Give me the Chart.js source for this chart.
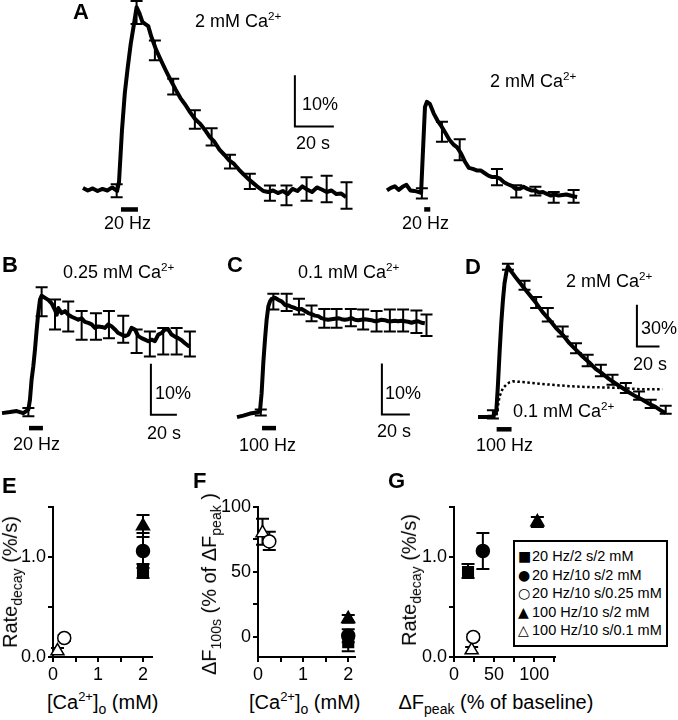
<!DOCTYPE html>
<html>
<head>
<meta charset="utf-8">
<script src="https://cdn.jsdelivr.net/npm/chart.js@4.4.1/dist/chart.umd.min.js"></script>
<style>
  html, body { margin: 0; padding: 0; background: #fff; }
  #fig { position: relative; width: 678px; height: 720px; overflow: hidden;
         font-family: "Liberation Sans", Arial, Helvetica, sans-serif; color: #000; }
  #fig canvas { position: absolute; }
  .lbl { position: absolute; white-space: nowrap; line-height: 1; font-size: 18px; }
  .lbl sup { font-size: 0.65em; vertical-align: 0.6em; line-height: 0; }
  .lbl sub { font-size: 0.7em; vertical-align: -0.35em; line-height: 0; }
  .panel { font-weight: bold; font-size: 22px; }
  .title { font-size: 20px; }
  #legend { position: absolute; left: 513px; top: 540px; width: 155px; height: 107px;
            box-sizing: border-box; border: 2px solid #000; background: #fff;
            padding: 5px 0 0 3px; font-size: 14.5px; line-height: 18.6px; white-space: nowrap; }
  #legend .mk { display: inline-block; width: 14px; font-family: "DejaVu Sans", sans-serif; font-size: 14px; }
</style>
</head>
<body>
<div id="fig"></div>
<script>
/* =========================
   TRACES (time in s, dF in % of baseline)
========================= */

// A, 20 Hz / 10 s, 2 mM
const aLongTime = [0, 2.5, 5, 7.5, 10, 12.5, 15, 17.5, 18.5, 20,
  21.5, 23, 24.5, 26, 27.5, 29, 30.5, 32, 33.5, 35,
  37.5, 40, 42.5, 45, 47.5, 50, 52.5, 55, 57.5, 60,
  62.5, 65, 67.5, 70, 72.5, 75, 77.5, 80, 82.5, 85,
  87.5, 90, 92.5, 95, 97.5, 100, 102.5, 105, 107.5, 110,
  112.5, 115, 117.5, 120, 122.5, 125, 127.5, 130, 132.5, 135];
const aLongDF = [0.3, -0.2, 0.2, -0.3, 0.1, -0.2, 0.4, -0.3, 1.5, 11.5,
  19, 24, 28.5, 32, 35.7, 34.5, 32.8, 32.4, 32, 30,
  27.4, 25.3, 23.3, 21.4, 19.6, 17.9, 16.6, 15.1, 13.8, 12.9,
  11.7, 10.3, 9.3, 7.8, 6.8, 5.7, 5.0, 3.9, 2.9, 2.0,
  1.2, 0.4, -0.3, -0.5, -0.2, -0.7, -0.3, -0.9, 0.1, -0.3,
  0.6, 0, -0.5, 0.4, 0, -0.5, -0.2, -0.9, -0.8, -1.5];
const aLongErrTime = [17.3, 27.5, 36.9, 46.3, 57.4, 66, 75.4, 85.6, 95.9, 104.4, 114.7, 125, 135.2];
const aLongErrHi = [1.0, 36.9, 29.2, 21.7, 15.5, 12, 6.8, 3.1, 0.8, 0.8, 2.4, 2.7, 1.4];
const aLongErrLo = [-1.5, 32.4, 25.3, 18.6, 11.9, 8.6, 4.1, 0.1, -2.2, -3.1, -2.2, -2.5, -3.8];

// A, 20 Hz / 2 s, 2 mM
const aShortTime = [0, 2, 4, 6, 8, 10, 12, 14, 16, 17.5, 18.5, 19.5, 20.5,
  22, 24, 26, 28, 30, 32, 34, 36, 38, 40, 42, 44, 46, 48, 50, 52, 54, 56, 58,
  60, 62, 64, 66, 68, 70, 72, 74, 76, 78, 80, 82, 84, 86, 88, 90, 92, 94, 96, 97.5];
const aShortDF = [0, 0.5, 0.8, 0.1, 0.7, 1.1, 0, -0.1, -0.3, -0.5, 8, 16.3, 17.3,
  16.9, 15, 13.6, 12.5, 11.2, 9.9, 9, 8.4, 7.2, 5.6, 4.4, 4.2, 3.9, 3.9, 3.4, 2.9, 2.6, 2.6, 2.3,
  1.6, 1.2, 0.9, 0.3, 0.3, 0.7, 0.3, 0, 0, -0.4, -0.3, -0.7, -1.0, -0.8, -1.0, -0.9, -0.8, -1.0, -1.2, -1.3];
const aShortErrTime = [17.9, 28.2, 37.3, 56.4, 66.3, 76.1, 85.5, 95.7];
const aShortErrHi = [0.4, 13.4, 10.0, 4.2, 1.0, 0.7, -0.3, 0.1];
const aShortErrLo = [-1.6, 9.5, 5.9, 1.0, -1.4, -1.0, -2.4, -2.4];

// B, 20 Hz / 10 s, 0.25 mM
const bTime = [0, 6.2, 11.3, 16.4, 20.3, 21.5, 22.8, 24.1, 25.4, 26.7,
  27.9, 29.2, 30.5, 33.1, 35.6, 38.2, 40.8, 42.1, 43.3, 45.9,
  48.5, 51, 53.6, 56.2, 58.7, 61.3, 63.8, 66.4, 69, 71.5,
  74.1, 76.7, 79.2, 81.8, 84.4, 86.9, 89.5, 92.1, 94.6, 97.2,
  99.7, 102.3, 104.9, 107.4, 110, 112.6, 115.1, 117.7, 120.3, 122.8,
  125.4, 127.9, 130.5, 133.1, 135.6, 138.2, 140.8, 143.3, 144.6];
const bDF = [-0.1, 0.1, 0.3, -0.1, 0.6, 2.5, 6.5, 9.1, 12.4, 16.3,
  19.5, 22.1, 22.9, 22.5, 22.1, 21.4, 20.1, 19.2, 20.5, 19.5,
  19.9, 19.2, 18.8, 18.5, 18.2, 18.5, 17.8, 17.6, 17.3, 16.6,
  16.9, 16.8, 16.6, 17.3, 16.9, 16.3, 15.6, 15.3, 15.0, 15.3,
  16.6, 16.3, 15.0, 14.6, 14.3, 14.0, 14.3, 14.0, 15.3, 15.6,
  16.3, 16.3, 15.3, 14.9, 14.6, 14.2, 13.6, 13.1, 13.0];
const bErrTime = [20.3, 30.5, 40.8, 51, 61.3, 72.3, 82.3, 93.3, 103.6, 113.8, 124.1, 134.4, 144.6];
const bErrHi = [0.9, 24.6, 22.2, 21.8, 19.9, 19.5, 19.9, 19.0, 16.3, 15.9, 16.6, 16.6, 15.9];
const bErrLo = [-0.7, 18.9, 16.3, 15.9, 14.3, 14.3, 14.6, 13.7, 11.7, 11.0, 11.4, 11.4, 11.0];

// C, 100 Hz / 10 s, 0.1 mM
const cTime = [0, 4.5, 9.3, 14, 16.4, 17.6, 18.8, 20, 21.2, 22.4,
  23.6, 24.8, 27.1, 29.5, 31.9, 34.3, 36.7, 39, 41.4, 43.8,
  46.2, 48.6, 51, 53.3, 55.7, 58.1, 60.5, 62.9, 65.2, 67.6,
  70, 72.4, 74.8, 77.1, 79.5, 81.9, 84.3, 86.7, 89, 91.4,
  93.8, 96.2, 98.6, 101, 103.3, 105.7, 108.1, 110.5, 112.9, 115.2,
  117.6, 120, 122.4, 124.8, 127.1, 129.5, 131.9, 134.3];
const cDF = [-0.1, 0.2, 0.6, 0.8, 1.0, 4.6, 10.5, 15.1, 19.0, 21.6,
  22.6, 23.1, 23.3, 22.9, 22.6, 21.9, 21.8, 21.5, 21.3, 21.0,
  21.1, 20.7, 20.3, 20.1, 19.8, 19.7, 19.3, 19.1, 19.0, 19.1,
  19.2, 19.3, 19.1, 19.0, 19.1, 19.3, 19.0, 18.9, 19.0, 19.1,
  19.0, 18.9, 18.7, 18.8, 19.0, 18.9, 18.7, 18.7, 18.8, 18.7,
  18.8, 18.7, 18.6, 18.4, 18.6, 18.7, 18.4, 18.3];
const cErrTime = [17, 26, 35.5, 44.3, 53.3, 62.4, 71.2, 81.4, 90.2, 99.8, 109.3, 118.8, 128.3, 135.5];
const cErrHi = [1.4, 24.1, 24.1, 23.1, 21.8, 21.1, 21.1, 21.1, 21.0, 20.7, 21.0, 21.0, 20.8, 20.0];
const cErrLo = [0.2, 21.0, 20.7, 20.0, 18.7, 17.4, 17.4, 17.7, 17.1, 16.7, 16.7, 16.7, 16.4, 15.8];

// D, 100 Hz / 10 s, 2 mM (solid) and 0.1 mM (dotted)
const dTime = [0, 7.4, 13.2, 16.2, 17.6, 19.1, 20.6, 22.1, 23.5, 25,
  26.5, 29.4, 33.8, 39.7, 45.6, 51.5, 57.4, 63.2, 69.1, 75,
  80.9, 86.8, 92.6, 98.5, 104.4, 110.3, 116.2, 122.1, 127.9, 133.8,
  139.7, 145.6, 151.5, 157.4, 163.2, 166.2];
const dDF = [0, 0, 0.5, 4.1, 22.3, 46.3, 67.6, 84.4, 96.4, 103.6,
  108.4, 104.8, 100, 94, 88, 82, 75.3, 70, 64, 59.2,
  53.2, 48.4, 43.6, 39.3, 34.5, 31.2, 27.3, 24, 20.9, 17.7,
  14.9, 12.5, 9.6, 7.2, 4.1, 2.9];
const dErrTime = [13.2, 26.5, 41.2, 51.5, 61.8, 75, 86.8, 97.1, 108.8, 119.1, 130.9, 142.6, 152.9, 166.2];
const dErrHi = [5, 110.3, 98, 86.3, 78.4, 65.2, 53.2, 44.8, 37.6, 30.5, 24.5, 18.5, 12.5, 8.2];
const dErrLo = [-1, 106, 91.6, 78.4, 68.8, 58, 46, 36.5, 29.3, 23.3, 17.3, 12.5, 6.5, 2.4];
const dLowTime = [0, 16.2, 17.6, 19.1, 22.1, 25, 27.9, 30.9, 39.7, 54.4, 69.1, 83.8, 98.5, 113.2, 127.9, 142.6, 157.4, 163.2];
const dLowDF = [0, 0, 7.7, 14.9, 20.9, 23.3, 25, 25.7, 25.2, 24, 23, 22.1, 21.6, 21.3, 20.9, 20.1, 20.1, 20.1];

// stimulus trains [start, end] (s)
const stimALong = [19.5, 28.2];
const stimAShort = [19.1, 22.2];
const stimB = [20.8, 31.5];
const stimC = [17.9, 27.9];
const stimD = [16.5, 29.7];

// scale bars: [seconds, percent]
const scaleBarA = [20, 10];
const scaleBarB = [20, 10];
const scaleBarC = [20, 10];
const scaleBarD = [20, 30];

/* =========================
   SUMMARY (E, F, G)
========================= */

const seriesLabels = ["20 Hz/2 s/2 mM", "20 Hz/10 s/2 mM", "20 Hz/10 s/0.25 mM", "100 Hz/10 s/2 mM", "100 Hz/10 s/0.1 mM"];
const seriesGlyphs = ["\u25A0", "\u25CF", "\u25CB", "\u25B2", "\u25B3"];

const caConc = [2, 2, 0.25, 2, 0.1];
const rateE = [0.86, 1.06, 0.19, 1.31, 0.06];
const rateEHi = [0.93, 1.24, 0.22, 1.42, 0.09];
const rateELo = [0.79, 0.89, 0.16, 1.20, 0.03];

const dF100 = [-4, 1, 73.5, 14, 80];
const dF100Hi = [2, 6, 81, 17, 91];
const dF100Lo = [-11, -4, 67, 11, 71];

const dFpeak = [17.5, 36, 24, 104, 22];
const rateG = [0.85, 1.06, 0.20, 1.35, 0.07];
const rateGHi = [0.93, 1.24, 0.23, 1.40, 0.10];
const rateGLo = [0.79, 0.88, 0.17, 1.30, 0.04];

const rateTicks = [0, 0.5, 1, 1.5];
const rateTickLabels = ["0.0", "", "1.0", ""];
const caTicks = [0, 0.5, 1, 1.5, 2];
const caTickLabels = ["0", "", "1", "", "2"];
const dF100Ticks = [0, 25, 50, 75, 100];
const dF100TickLabels = ["0", "", "50", "", "100"];
const peakTicks = [0, 25, 50, 75, 100, 125];
const peakTickLabels = ["0", "", "50", "", "100", ""];

/* =========================
   HELPERS
========================= */

const FONT = '"Liberation Sans", Arial, Helvetica, sans-serif';
const fig = document.getElementById("fig");
const xy = (xs, ys) => xs.map((x, i) => ({ x: x, y: ys[i] }));

function errorBars(phase, cap, lw) {
  const draw = chart => {
    const ctx = chart.ctx, xs = chart.scales.x, ys = chart.scales.y;
    ctx.save();
    ctx.strokeStyle = "#000";
    ctx.lineWidth = lw;
    chart.data.datasets.forEach(ds => {
      if (!ds.errHi) return;
      ds.errHi.forEach((hi, i) => {
        const xv = ds.errX ? ds.errX[i] : ds.data[i].x;
        const x = xs.getPixelForValue(xv);
        const y1 = ys.getPixelForValue(hi), y2 = ys.getPixelForValue(ds.errLo[i]);
        ctx.beginPath();
        ctx.moveTo(x, y1); ctx.lineTo(x, y2);
        ctx.moveTo(x - cap, y1); ctx.lineTo(x + cap, y1);
        ctx.moveTo(x - cap, y2); ctx.lineTo(x + cap, y2);
        ctx.stroke();
      });
    });
    ctx.restore();
  };
  return phase === "before" ? { id: "errBefore", beforeDatasetsDraw: draw } : { id: "errAfter", afterDatasetsDraw: draw };
}

function traceExtras(opt) {
  return {
    id: "traceExtras",
    afterDatasetsDraw(chart) {
      const ctx = chart.ctx, xs = chart.scales.x, ys = chart.scales.y;
      ctx.save();
      ctx.fillStyle = "#000";
      ctx.strokeStyle = "#000";
      if (opt.stim) {
        const x1 = xs.getPixelForValue(opt.stim[0]), x2 = xs.getPixelForValue(opt.stim[1]);
        const y = ys.getPixelForValue(0) + opt.stimOffset;
        ctx.fillRect(x1, y - 2.25, x2 - x1, 4.5);
      }
      if (opt.bar) {
        const x0 = xs.getPixelForValue(opt.barAt[0]), y0 = ys.getPixelForValue(opt.barAt[1]);
        const x1 = xs.getPixelForValue(opt.barAt[0] + opt.bar[0]);
        const y1 = ys.getPixelForValue(opt.barAt[1] + opt.bar[1]);
        ctx.lineWidth = 2;
        ctx.beginPath();
        ctx.moveTo(x0, y1); ctx.lineTo(x0, y0); ctx.lineTo(x1, y0);
        ctx.stroke();
      }
      ctx.restore();
    }
  };
}

function traceChart(box, datasets, extras) {
  const pad = 14;
  const left = box.x0 + box.tMin * box.sx, right = box.x0 + box.tMax * box.sx;
  const top = box.y0 - box.vMax * box.sy, bottom = box.y0 - box.vMin * box.sy;
  const cv = document.createElement("canvas");
  const w = Math.round(right - left) + 2 * pad, h = Math.round(bottom - top) + 2 * pad;
  cv.width = w; cv.height = h;
  cv.style.width = w + "px"; cv.style.height = h + "px";
  cv.style.left = Math.round(left - pad) + "px";
  cv.style.top = Math.round(top - pad) + "px";
  fig.appendChild(cv);
  new Chart(cv, {
    type: "line",
    data: { datasets: datasets },
    options: {
      responsive: false,
      animation: false,
      events: [],
      layout: { padding: pad },
      plugins: { legend: { display: false }, tooltip: { enabled: false } },
      scales: {
        x: { type: "linear", display: false, min: box.tMin, max: box.tMax },
        y: { type: "linear", display: false, min: box.vMin, max: box.vMax }
      }
    },
    plugins: [errorBars("after", 6, 2), traceExtras(extras)]
  });
}

function traceSet(t, v, errX, errHi, errLo) {
  return {
    data: xy(t, v), borderColor: "#000", borderWidth: 4, pointRadius: 0,
    tension: 0, fill: false, clip: false, borderJoinStyle: "round",
    errX: errX, errHi: errHi, errLo: errLo
  };
}

function axis(min, max, tickVals, tickLabels, size) {
  return {
    type: "linear", min: min, max: max,
    afterBuildTicks: s => { s.ticks = tickVals.map(v => ({ value: v })); },
    afterFit: s => { if (s.isHorizontal()) s.height = size; else s.width = size; },
    border: { display: true, color: "#000", width: 2 },
    grid: { display: true, drawOnChartArea: false, drawTicks: true, tickLength: 5, color: "#000", lineWidth: 2 },
    ticks: {
      autoSkip: false, maxRotation: 0, padding: 2, color: "#000",
      font: { family: FONT, size: 18 },
      callback: (v, i) => tickLabels[i]
    }
  };
}

const markerStyle = ["rect", "circle", "circle", "triangle", "triangle"];
const markerFill = ["#000", "#000", "#fff", "#000", "#fff"];
const markerSize = [7.5, 6.5, 6.5, 7.5, 7.5];

function summaryChart(frame, xVals, yVals, yHi, yLo, xAxis, yAxis) {
  const cv = document.createElement("canvas");
  cv.width = frame.w; cv.height = frame.h;
  cv.style.width = frame.w + "px"; cv.style.height = frame.h + "px";
  cv.style.left = frame.left + "px"; cv.style.top = frame.top + "px";
  fig.appendChild(cv);
  const datasets = seriesLabels.map((lab, i) => ({
    label: lab,
    data: [{ x: xVals[i], y: yVals[i] }],
    errHi: [yHi[i]], errLo: [yLo[i]],
    pointStyle: markerStyle[i], pointRadius: markerSize[i],
    backgroundColor: markerFill[i], borderColor: "#000", borderWidth: 1.5,
    showLine: false, clip: false
  }));
  new Chart(cv, {
    type: "scatter",
    data: { datasets: datasets },
    options: {
      responsive: false,
      animation: false,
      events: [],
      layout: { padding: { left: 0, top: frame.padTop, right: frame.padRight, bottom: 0 } },
      plugins: { legend: { display: false }, tooltip: { enabled: false } },
      scales: { x: xAxis, y: yAxis }
    },
    plugins: [errorBars("before", 6.5, 2)]
  });
}

function label(html, x, cy, cls, align) {
  const d = document.createElement("div");
  d.className = "lbl" + (cls ? " " + cls : "");
  d.innerHTML = html;
  fig.appendChild(d);
  const fs = parseFloat(getComputedStyle(d).fontSize);
  const w = d.offsetWidth;
  d.style.left = (align === "center" ? x - w / 2 : x) + "px";
  d.style.top = (cy - 0.49 * fs) + "px";
}

function yTitle(html, cx, cy) {
  const d = document.createElement("div");
  d.className = "lbl title";
  d.innerHTML = html;
  fig.appendChild(d);
  const w = d.offsetWidth, h = d.offsetHeight;
  d.style.left = (cx - w / 2) + "px";
  d.style.top = (cy - h / 2) + "px";
  d.style.transform = "rotate(-90deg)";
}

/* =========================
   TRACE PANELS
========================= */

traceChart({ x0: 83, y0: 189, sx: 1.95, sy: 5.1, tMin: -1, tMax: 138, vMin: -5, vMax: 37.5 },
  [traceSet(aLongTime, aLongDF, aLongErrTime, aLongErrHi, aLongErrLo)],
  { stim: stimALong, stimOffset: 20, bar: scaleBarA, barAt: [108.7, 12.35] });

traceChart({ x0: 386.7, y0: 190, sx: 1.95, sy: 5.1, tMin: -1, tMax: 100, vMin: -5, vMax: 20 },
  [traceSet(aShortTime, aShortDF, aShortErrTime, aShortErrHi, aShortErrLo)],
  { stim: stimAShort, stimOffset: 19 });

traceChart({ x0: 2, y0: 413, sx: 1.3, sy: 5.1, tMin: 0, tMax: 147, vMin: -4, vMax: 26 },
  [traceSet(bTime, bDF, bErrTime, bErrHi, bErrLo)],
  { stim: stimB, stimOffset: 15.5, bar: scaleBarB, barAt: [114.6, -0.4] });

traceChart({ x0: 237, y0: 417, sx: 1.4, sy: 5.1, tMin: 0, tMax: 138, vMin: -4, vMax: 26 },
  [traceSet(cTime, cDF, cErrTime, cErrHi, cErrLo)],
  { stim: stimC, stimOffset: 11.5, bar: scaleBarC, barAt: [103.6, 0.4] });

traceChart({ x0: 478.3, y0: 417.3, sx: 1.13, sy: 1.39, tMin: 0, tMax: 170, vMin: -10, vMax: 113 },
  [traceSet(dTime, dDF, dErrTime, dErrHi, dErrLo),
   { data: xy(dLowTime, dLowDF), borderColor: "#000", borderWidth: 2.5, borderDash: [2.5, 2.5],
     pointRadius: 0, tension: 0, fill: false, clip: false }],
  { stim: stimD, stimOffset: 12.2, bar: scaleBarD, barAt: [140.7, 50.8] });

/* =========================
   SUMMARY PANELS
========================= */

summaryChart({ left: 0, top: 490, w: 165, h: 197, padTop: 17, padRight: 13 },
  caConc, rateE, rateEHi, rateELo,
  axis(0, 2.2, caTicks, caTickLabels, 30),
  axis(0, 1.5, rateTicks, rateTickLabels, 53));

summaryChart({ left: 200, top: 490, w: 168, h: 197, padTop: 17, padRight: 13 },
  caConc, dF100, dF100Hi, dF100Lo,
  axis(0, 2.15, caTicks, caTickLabels, 30),
  axis(-15.4, 100, dF100Ticks, dF100TickLabels, 58));

summaryChart({ left: 400, top: 490, w: 168, h: 197, padTop: 17, padRight: 13 },
  dFpeak, rateG, rateGHi, rateGLo,
  axis(0, 126, peakTicks, peakTickLabels, 30),
  axis(0, 1.5, rateTicks, rateTickLabels, 54));

/* =========================
   LEGEND (G)
========================= */

const legend = document.createElement("div");
legend.id = "legend";
legend.innerHTML = seriesLabels.map((lab, i) =>
  '<div><span class="mk">' + seriesGlyphs[i] + '</span>' + lab + '</div>').join("");
fig.appendChild(legend);

/* =========================
   TEXT
========================= */

const CA = " mM Ca<sup>2+</sup>";

label("A", 73, 12, "panel");
label("2" + CA, 195, 21);
label("10%", 302, 104);
label("20 s", 296, 143);
label("20 Hz", 104, 223);
label("2" + CA, 490, 81);
label("20 Hz", 402, 223);

label("B", 2, 265, "panel");
label("0.25" + CA, 63, 272);
label("10%", 155, 393);
label("20 s", 147, 433);
label("20 Hz", 13, 444);

label("C", 227, 265, "panel");
label("0.1" + CA, 298, 272);
label("10%", 385, 393);
label("20 s", 377, 431);
label("100 Hz", 239, 445);

label("D", 465, 267, "panel");
label("2" + CA, 566, 281);
label("30%", 641, 328);
label("20 s", 633, 364);
label("0.1" + CA, 513, 411);
label("100 Hz", 476, 445);

label("E", 2, 486, "panel");
label("F", 193, 481, "panel");
label("G", 388, 481, "panel");

label("[Ca<sup>2+</sup>]<sub>o</sub> (mM)", 103, 702, "title", "center");
label("[Ca<sup>2+</sup>]<sub>o</sub> (mM)", 305, 702, "title", "center");
label("\u0394F<sub>peak</sub> (% of baseline)", 496, 702, "title", "center");

yTitle("Rate<sub>decay</sub> (%/s)", 10, 582);
yTitle("\u0394F<sub>100s</sub> (% of \u0394F<sub>peak</sub> )", 209, 584);
yTitle("Rate<sub>decay</sub> (%/s)", 409, 580);
</script>
</body>
</html>
